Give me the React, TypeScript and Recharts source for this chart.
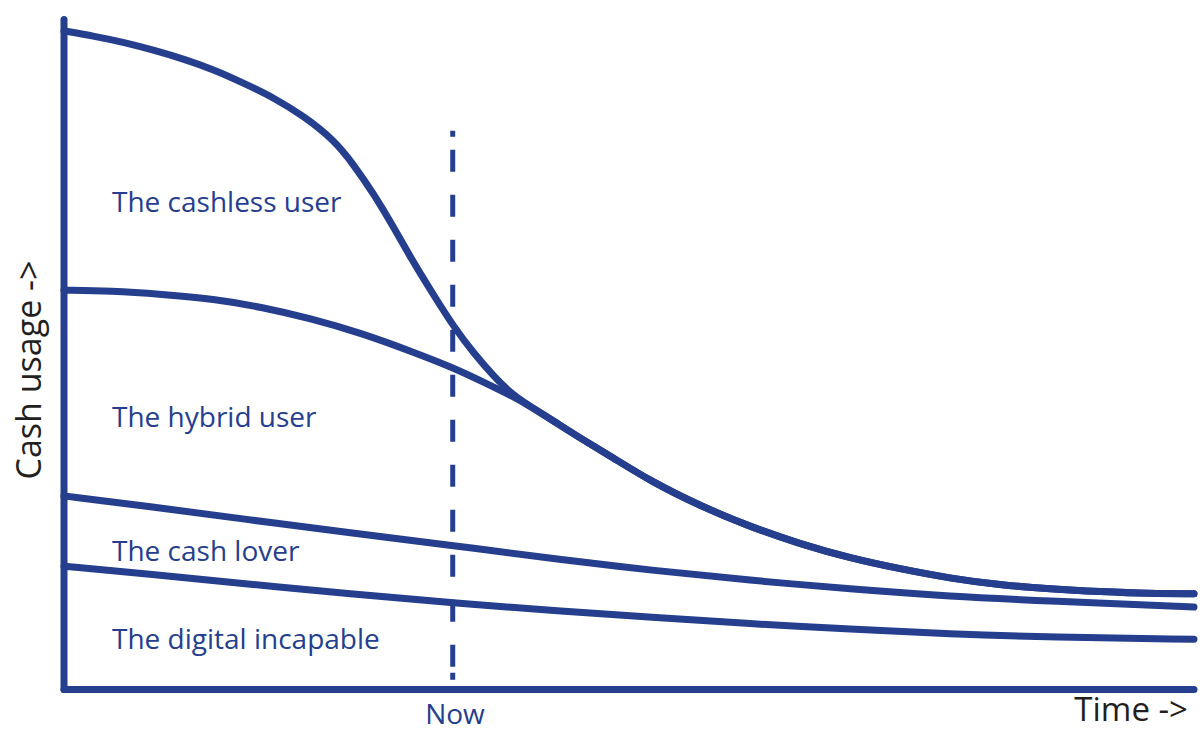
import React from "react";
import { LineChart, Line, XAxis, YAxis, ReferenceLine, Customized } from "recharts";

const BLUE = "#253e8e";
const INK = "#231f20";
const FONT = "'Open Sans', sans-serif";

// time runs 0..100 left to right, cash usage 0..100 bottom to top
const NOW = 34.4;

const cashlessHead = [
  { t: 0, u: 98.3 },
  { t: 2.7, u: 97.5 },
  { t: 5.3, u: 96.6 },
  { t: 8.0, u: 95.4 },
  { t: 10.6, u: 94.1 },
  { t: 13.3, u: 92.5 },
  { t: 15.9, u: 90.5 },
  { t: 18.6, u: 88.3 },
  { t: 21.2, u: 85.6 },
  { t: 23.9, u: 82.0 },
  { t: 25.6, u: 78.4 },
  { t: 27.4, u: 74.0 },
  { t: 29.2, u: 68.9 },
  { t: 30.9, u: 63.8 },
  { t: 32.7, u: 58.9 },
  { t: 34.5, u: 54.1 },
  { t: 36.3, u: 50.1 },
  { t: 38.0, u: 46.8 },
  { t: 39.8, u: 43.8 },
];

const hybridHead = [
  { t: 0, u: 59.6 },
  { t: 4.2, u: 59.5 },
  { t: 8.6, u: 59.0 },
  { t: 13.3, u: 58.3 },
  { t: 17.4, u: 57.1 },
  { t: 21.8, u: 55.4 },
  { t: 26.3, u: 53.2 },
  { t: 30.7, u: 50.5 },
  { t: 34.5, u: 48.0 },
  { t: 37.1, u: 45.9 },
  { t: 39.8, u: 43.7 },
];

// where the cashless and hybrid users end up on the same path
const sharedTail = [
  { t: 41.6, u: 41.9 },
  { t: 43.3, u: 40.1 },
  { t: 45.7, u: 37.5 },
  { t: 48.4, u: 34.8 },
  { t: 51.9, u: 31.1 },
  { t: 56.3, u: 27.4 },
  { t: 60.7, u: 24.3 },
  { t: 65.2, u: 21.7 },
  { t: 69.6, u: 19.6 },
  { t: 74.0, u: 18.0 },
  { t: 78.4, u: 16.6 },
  { t: 82.8, u: 15.6 },
  { t: 87.3, u: 15.0 },
  { t: 91.7, u: 14.6 },
  { t: 96.1, u: 14.3 },
  { t: 100, u: 14.3 },
];

const cashLover = [
  { t: 0, u: 28.9 },
  { t: 7.6, u: 27.3 },
  { t: 16.5, u: 25.3 },
  { t: 25.3, u: 23.4 },
  { t: 34.4, u: 21.5 },
  { t: 43.9, u: 19.4 },
  { t: 51.9, u: 17.8 },
  { t: 60.7, u: 16.3 },
  { t: 69.6, u: 15.0 },
  { t: 78.4, u: 13.9 },
  { t: 87.3, u: 13.2 },
  { t: 100, u: 12.3 },
];

const digitalIncapable = [
  { t: 0, u: 18.4 },
  { t: 7.6, u: 17.2 },
  { t: 16.5, u: 15.7 },
  { t: 25.3, u: 14.3 },
  { t: 34.4, u: 12.9 },
  { t: 43.9, u: 11.7 },
  { t: 51.9, u: 10.8 },
  { t: 60.7, u: 9.8 },
  { t: 69.6, u: 9.0 },
  { t: 78.4, u: 8.3 },
  { t: 87.3, u: 7.8 },
  { t: 100, u: 7.5 },
];

const cashless = [...cashlessHead, ...sharedTail];
const hybrid = [...hybridHead, ...sharedTail];

const groupLabels = ["The cashless user", "The hybrid user", "The cash lover", "The digital incapable"];
const xTitle = "Time ->";
const yTitle = "Cash usage ->";
const nowLabel = "Now";

const labelBaselines = [212, 427, 561, 649];

// dashes line up with both ends of the marker, like the original artwork
const nowDash = "6 13 " + Array(11).fill("22 23").join(" ") + " 22 6 7";

function Annotations() {
  return (
    <g fontFamily={FONT}>
      {groupLabels.map((s, i) => (
        <text key={s} x={112} y={labelBaselines[i]} fill={BLUE} fontSize={28}>
          {s}
        </text>
      ))}
      <text x={455} y={724} fill={BLUE} fontSize={28} textAnchor="middle">
        {nowLabel}
      </text>
      <text x={1188} y={721} fill={INK} fontSize={33} textAnchor="end">
        {xTitle}
      </text>
      <text
        x={0}
        y={0}
        fill={INK}
        fontSize={34}
        textAnchor="middle"
        transform="translate(41 370) rotate(-90)"
      >
        {yTitle}
      </text>
    </g>
  );
}

const lineProps = {
  type: "basis" as const,
  dataKey: "u",
  stroke: BLUE,
  strokeWidth: 7,
  strokeLinecap: "round" as const,
  strokeLinejoin: "round" as const,
  dot: false,
  activeDot: false,
  isAnimationActive: false,
};

const axisLine = { stroke: BLUE, strokeWidth: 7, strokeLinecap: "round" as const };

export default function App() {
  return (
    <div style={{ position: "absolute", left: 0, top: 0, background: "#fff" }}>
      <LineChart width={1203} height={731} margin={{ top: 19.5, right: 9, bottom: 40.5, left: 63 }}>
        <XAxis
          type="number"
          dataKey="t"
          domain={[0, 100]}
          height={1}
          tick={false}
          tickLine={false}
          axisLine={axisLine}
        />
        <YAxis type="number" domain={[0, 100]} width={1} tick={false} tickLine={false} axisLine={axisLine} />
        <ReferenceLine
          segment={[
            { x: NOW, y: 83.4 },
            { x: NOW, y: 1.4 },
          ]}
          stroke={BLUE}
          strokeWidth={5}
          strokeDasharray={nowDash}
          ifOverflow="visible"
        />
        <Line {...lineProps} data={cashless} name="cashless" />
        <Line {...lineProps} data={hybrid} name="hybrid" />
        <Line {...lineProps} data={cashLover} name="cashLover" />
        <Line {...lineProps} data={digitalIncapable} name="digitalIncapable" />
        <Customized component={Annotations} />
      </LineChart>
    </div>
  );
}
